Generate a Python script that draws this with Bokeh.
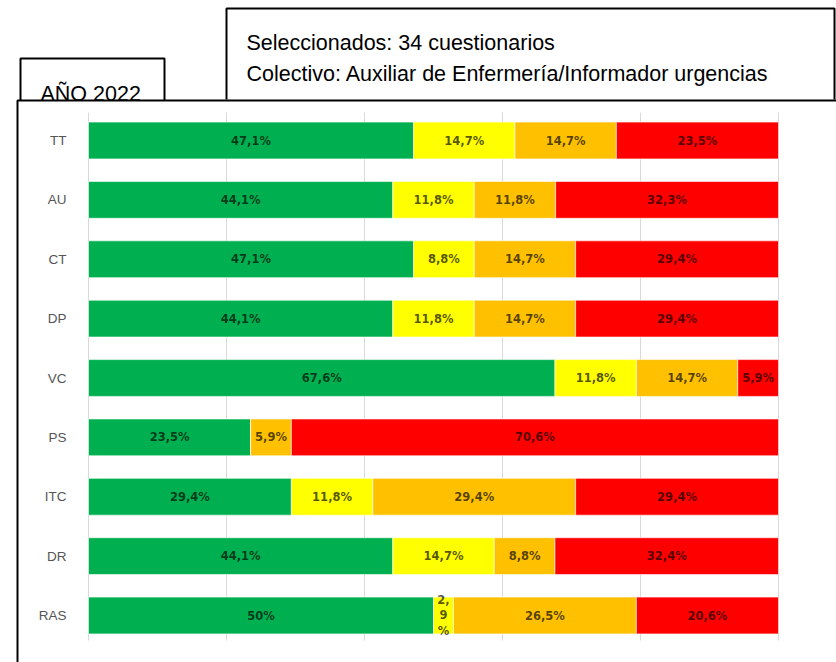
from bokeh.plotting import figure
from bokeh.models import ColumnDataSource, Range1d
from bokeh.core.properties import value
from bokeh.embed import file_html
from bokeh.resources import INLINE

# ---- data ----
categories = ["TT", "AU", "CT", "DP", "VC", "PS", "ITC", "DR", "RAS"]
verde = [47.1, 44.1, 47.1, 44.1, 67.6, 23.5, 29.4, 44.1, 50.0]
amarillo = [14.7, 11.8, 8.8, 11.8, 11.8, 0.0, 11.8, 14.7, 2.9]
naranja = [14.7, 11.8, 14.7, 14.7, 14.7, 5.9, 29.4, 8.8, 26.5]
rojo = [23.5, 32.3, 29.4, 29.4, 5.9, 70.6, 29.4, 32.4, 20.6]
series_names = ["verde", "amarillo", "naranja", "rojo"]
series_colors = ["#00B050", "#FFFF00", "#FFC000", "#FF0000"]
x_ticks = [0, 20, 40, 60, 80, 100]
box_title = "AÑO 2022"
info_line1 = "Seleccionados: 34 cuestionarios"
info_line2 = "Colectivo: Auxiliar de Enfermería/Informador urgencias"

series = [verde, amarillo, naranja, rojo]
W, H = 836, 662
rows = list(range(len(categories)))      # row index, TT on top


def fmt(v):
    if abs(v - round(v)) < 1e-9:
        s = f"{int(round(v))}%"
    else:
        s = f"{v:.1f}".replace(".", ",") + "%"
    if v < 4:
        s = "\n".join([s[:2], s[2:-1], s[-1]])
    return s


# page coordinates (pixels from top-left) for frames/boxes; data ranges for the chart
PX_LEFT, PX_RIGHT = 88, 778          # where 0% and 100% fall
ROW0, ROW_STEP = 140, 59.375         # centre of first row, row spacing
sc = (PX_RIGHT - PX_LEFT) / 100.0

p = figure(width=W, height=H, output_backend="svg", toolbar_location=None,
           x_range=Range1d(0, W), y_range=Range1d(H, 0),
           x_axis_location=None, y_axis_location=None,
           min_border=0, min_border_left=0, min_border_right=0,
           min_border_top=0, min_border_bottom=0)
p.outline_line_color = None
p.background_fill_color = "white"
p.border_fill_color = "white"
p.xgrid.visible = False
p.ygrid.visible = False

p.extra_x_ranges = {"pct": Range1d(-PX_LEFT / sc, (W - PX_LEFT) / sc)}
p.extra_y_ranges = {"row": Range1d((H - ROW0) / ROW_STEP, -ROW0 / ROW_STEP)}

# vertical grid lines
p.segment(x0=x_ticks, x1=x_ticks, y0=[-0.47] * len(x_ticks), y1=[8.42] * len(x_ticks),
          x_range_name="pct", y_range_name="row", line_color="#d9d9d9", line_width=1)

src = ColumnDataSource(dict(row=rows, verde=verde, amarillo=amarillo,
                            naranja=naranja, rojo=rojo))
p.hbar_stack(series_names, y="row", height=0.62, color=series_colors,
             source=src, line_color="white", line_width=0.6,
             x_range_name="pct", y_range_name="row")

# value labels
lx, ly, lt = [], [], []
for i in rows:
    left = 0.0
    for s in series:
        v = s[i]
        if v > 0:
            lx.append(left + v / 2)
            ly.append(i)
            lt.append(fmt(v))
        left += v
p.text(x=lx, y=ly, text=lt, text_align="center", text_baseline="middle",
       text_font=value("DejaVu Sans"), text_font_size="11.5px", text_font_style="bold",
       text_color="black", text_alpha=0.68, text_line_height=1.1,
       x_range_name="pct", y_range_name="row")

# category labels
p.text(x=[-3.2] * len(categories), y=rows, text=categories, text_align="right",
       text_baseline="middle", text_font=value("Liberation Sans"),
       text_font_size="13.5px", text_color="#555555",
       x_range_name="pct", y_range_name="row")

# frames
lw = 2
p.line(x=[17, 17, W + 5], y=[H + 5, 100, 100], line_color="black", line_width=lw)
p.line(x=[20, 20, 164, 164], y=[100, 58, 58, 100], line_color="black", line_width=lw)
p.line(x=[226, 226, 834, 834], y=[99, 8, 8, 99], line_color="black", line_width=lw)

p.text(x=[40], y=[93], text=[box_title], text_font=value("Liberation Sans"),
       text_font_size="21.5px", text_baseline="alphabetic", text_color="black")
p.text(x=[246, 246], y=[42, 73], text=[info_line1, info_line2],
       text_font=value("Liberation Sans"), text_font_size="21.5px",
       text_baseline="alphabetic", text_color="black")

open("out.html", "w").write(file_html(p, INLINE))
